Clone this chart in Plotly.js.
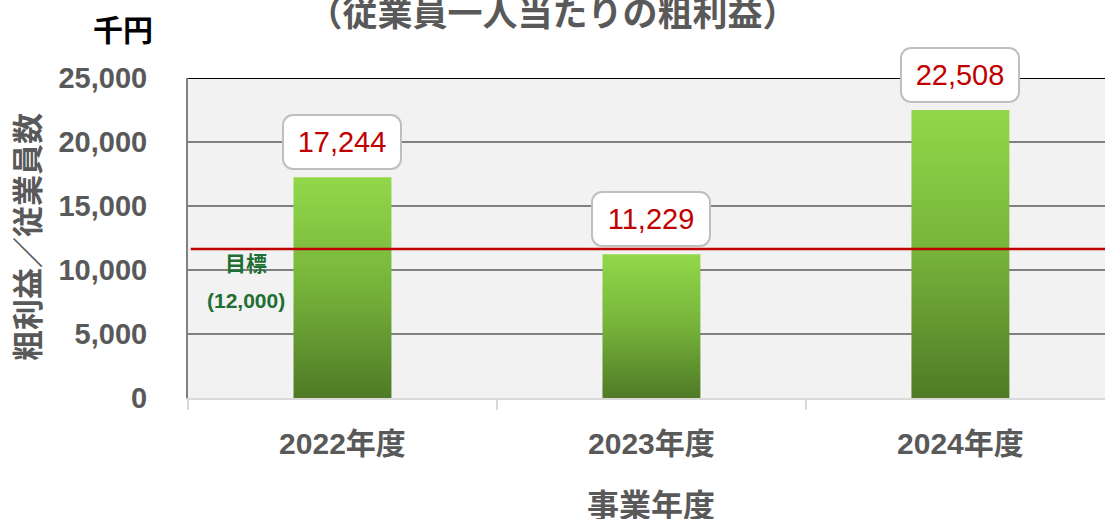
<!DOCTYPE html>
<html>
<head>
<meta charset="utf-8">
<script src="https://cdn.plot.ly/plotly-3.0.1.min.js"></script>
<style>
html,body{margin:0;padding:0;background:#fff;overflow:hidden;}
#chart{width:1105px;height:519px;}
</style>
</head>
<body>
<div id="chart"></div>
<script>
// ---- data ----
const categories = ['2022年度', '2023年度', '2024年度'];
const values = [17244, 11229, 22508];
const targetLineValue = 11650;          // drawn position of the target line
const targetLabelLines = ['目標', '(12,000)'];
const yTickValues = [0, 5000, 10000, 15000, 20000, 25000];
const chartTitle = '（従業員一人当たりの粗利益）';
const unitLabel = '千円';
const yTitle = '粗利益／従業員数';
const xTitle = '事業年度';

const FONT = "'Liberation Sans', 'Noto Sans CJK JP', sans-serif";
const GRAY = '#595959';

const trace = {
  type: 'bar',
  x: categories,
  y: values,
  width: 0.317,
  marker: {color: '#76b33a', line: {width: 0}},
  hoverinfo: 'skip'
};

const labelAnnotations = categories.map((c, i) => ({
  x: c, y: values[i], xref: 'x', yref: 'y',
  text: values[i].toLocaleString('en-US'),
  showarrow: false, yanchor: 'bottom', yshift: 7,
  font: {family: FONT, size: 29, color: '#c00000'},
  bgcolor: '#ffffff', bordercolor: '#bfbfbf', borderwidth: 2, borderpad: 6,
  width: 104, height: 40
}));

const layout = {
  width: 1105, height: 519,
  margin: {l: 188, r: 0, t: 78, b: 121, pad: 0},
  paper_bgcolor: '#ffffff',
  plot_bgcolor: '#f2f2f2',
  showlegend: false,
  font: {family: FONT},
  title: {
    text: chartTitle,
    font: {family: FONT, size: 35, color: GRAY, weight: 'bold'},
    xref: 'container', yref: 'container', x: 0.5, y: 1 - 14/519,
    xanchor: 'center', yanchor: 'middle'
  },
  xaxis: {
    type: 'category',
    range: [-0.5, 2.468],
    tickson: 'boundaries',
    ticks: 'outside', ticklen: 10, tickwidth: 2, tickcolor: '#d9d9d9',
    showline: true, linecolor: '#d9d9d9', linewidth: 2,
    showgrid: false,
    ticklabelstandoff: 18,
    tickfont: {family: FONT, size: 30, color: GRAY, weight: 'bold'},
    fixedrange: true
  },
  yaxis: {
    range: [0, 25000],
    tickvals: yTickValues,
    tickformat: ',d',
    showgrid: true, gridcolor: '#808080', gridwidth: 2,
    zeroline: false,
    showline: true, linecolor: '#808080', linewidth: 2,
    ticks: '',
    ticklabelstandoff: 33,
    tickfont: {family: FONT, size: 29, color: GRAY, weight: 'bold'},
    fixedrange: true
  },
  shapes: [
    {type: 'line', xref: 'paper', yref: 'y', x0: 0, x1: 1, y0: 25000, y1: 25000,
     line: {color: '#000000', width: 2}, layer: 'above'},
    {type: 'line', xref: 'paper', yref: 'y', x0: 0.003, x1: 1, y0: targetLineValue, y1: targetLineValue,
     line: {color: '#c00000', width: 2.5}, layer: 'above'}
  ],
  annotations: labelAnnotations.concat([
    {xref: 'paper', yref: 'paper', x: (246-188)/917, y: (398-263)/320,
     text: targetLabelLines[0], showarrow: false, xanchor: 'center', yanchor: 'middle',
     font: {family: FONT, size: 21, color: '#1f6e34', weight: 'bold'}},
    {xref: 'paper', yref: 'paper', x: (246-188)/917, y: (398-300)/320,
     text: targetLabelLines[1], showarrow: false, xanchor: 'center', yanchor: 'middle',
     font: {family: FONT, size: 21, color: '#1f6e34', weight: 'bold'}},
    {xref: 'paper', yref: 'paper', x: (123-188)/917, y: (398-30)/320,
     text: unitLabel, showarrow: false, xanchor: 'center', yanchor: 'middle',
     font: {family: FONT, size: 30, color: '#000000', weight: 'bold'}},
    {xref: 'paper', yref: 'paper', x: (28-188)/917, y: (398-237)/320,
     text: yTitle, showarrow: false, xanchor: 'center', yanchor: 'middle', textangle: -90,
     font: {family: FONT, size: 31, color: GRAY, weight: 'bold'}},
    {xref: 'x', yref: 'paper', x: categories[1], y: (398-506)/320,
     text: xTitle, showarrow: false, xanchor: 'center', yanchor: 'middle',
     font: {family: FONT, size: 32, color: GRAY, weight: 'bold'}}
  ])
};

Plotly.newPlot('chart', [trace], layout, {staticPlot: true, displayModeBar: false}).then(gd => {
  const svg = gd.querySelector('svg.main-svg');
  const ns = 'http://www.w3.org/2000/svg';
  let defs = svg.querySelector('defs');
  if (!defs) { defs = document.createElementNS(ns, 'defs'); svg.insertBefore(defs, svg.firstChild); }
  const grad = document.createElementNS(ns, 'linearGradient');
  grad.setAttribute('id', 'barGrad');
  grad.setAttribute('x1', '0'); grad.setAttribute('y1', '0');
  grad.setAttribute('x2', '0'); grad.setAttribute('y2', '1');
  [['0', '#92d84a'], ['0.5', '#76b33a'], ['1', '#4f7a26']].forEach(([o, c]) => {
    const s = document.createElementNS(ns, 'stop');
    s.setAttribute('offset', o); s.setAttribute('stop-color', c);
    grad.appendChild(s);
  });
  defs.appendChild(grad);
  gd.querySelectorAll('.barlayer .point path').forEach(p => {
    p.style.fill = 'url(#barGrad)';
  });
  gd.querySelectorAll('.annotation-text-g rect.bg').forEach(r => {
    if (parseFloat(r.getAttribute('width')) > 80 && r.style.fill !== 'rgba(0, 0, 0, 0)') {
      r.setAttribute('rx', '10'); r.setAttribute('ry', '10');
    }
  });
});
</script>
</body>
</html>
